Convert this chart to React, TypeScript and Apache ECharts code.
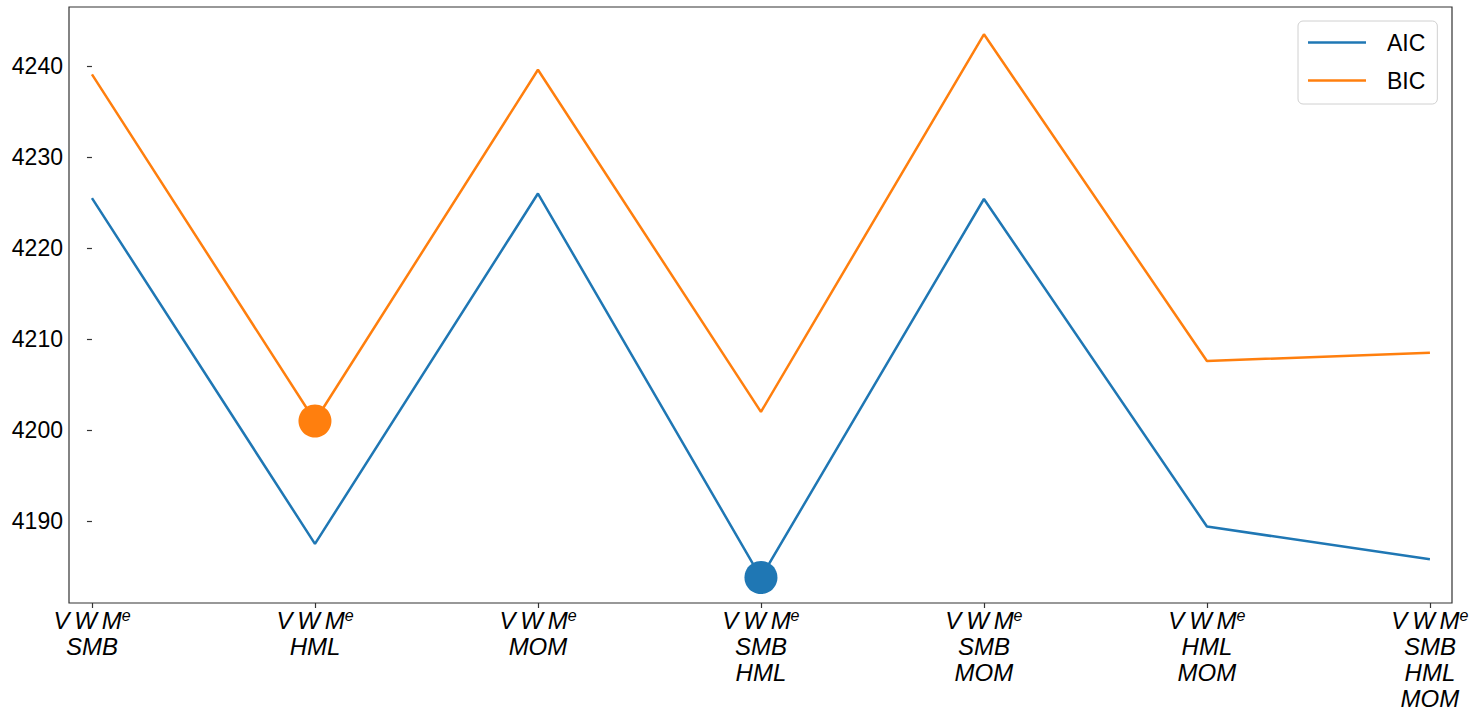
import React, { useEffect, useRef } from "react";
import * as echarts from "echarts";

const categories: string[][] = [
  ["SMB"],
  ["HML"],
  ["MOM"],
  ["SMB", "HML"],
  ["SMB", "MOM"],
  ["HML", "MOM"],
  ["SMB", "HML", "MOM"],
];
const aic: number[] = [4225.5, 4187.5, 4226.0, 4183.8, 4225.4, 4189.4, 4185.8];
const bic: number[] = [4239.1, 4201.0, 4239.6, 4202.0, 4243.5, 4207.6, 4208.5];
const yTicks: number[] = [4190, 4200, 4210, 4220, 4230, 4240];

const FONT = "'Liberation Sans', Arial, Helvetica, sans-serif";

function argmin(a: number[]): number {
  let k = 0;
  for (let i = 1; i < a.length; i++) if (a[i] < a[k]) k = i;
  return k;
}

export default function App() {
  const ref = useRef<HTMLDivElement>(null);
  useEffect(() => {
    if (!ref.current) return;
    const chart = echarts.init(ref.current, null, { renderer: "svg" });
    const ia = argmin(aic);
    const ib = argmin(bic);
    const xIdx = categories.map((_, i) => i);
    chart.setOption({
      animation: false,
      backgroundColor: "#fff",
      grid: {
        left: 69,
        right: 27,
        top: 7,
        bottom: 111,
        show: true,
        borderColor: "#333",
        borderWidth: 1.2,
        backgroundColor: "transparent",
      },
      legend: {
        left: 1298,
        top: 21,
        orient: "vertical",
        data: [
          { name: "AIC", icon: "rect", itemStyle: { color: "#1f77b4" } },
          { name: "BIC", icon: "rect", itemStyle: { color: "#ff7f0e" } },
        ],
        itemWidth: 58,
        itemHeight: 2.6,
        itemGap: 11,
        padding: [8, 12, 10, 10],
        backgroundColor: "#fff",
        borderColor: "#d0d0d0",
        borderWidth: 1,
        borderRadius: 5,
        textStyle: { fontFamily: FONT, fontSize: 23, color: "#000", padding: [0, 0, 0, 16], lineHeight: 27 },
      },
      xAxis: {
        type: "value",
        min: -0.103,
        max: 6.099,
        splitLine: { show: false },
        axisLine: { show: false },
        axisTick: { show: true, length: 5, customValues: xIdx, lineStyle: { color: "#333", width: 1.2 } },
        axisLabel: {
          customValues: xIdx,
          margin: 4,
          formatter: (v: number) => {
            const i = Math.round(v);
            const c = categories[i];
            if (!c) return "";
            return ["{m|V\u2009W\u2009M}{s|e}", ...c.map((t) => "{m|" + t + "}")].join("\n");
          },
          rich: {
            m: { fontFamily: FONT, fontStyle: "italic", fontSize: 24, color: "#000", lineHeight: 26 },
            s: { fontFamily: FONT, fontStyle: "italic", fontSize: 16, color: "#000", lineHeight: 26, verticalAlign: "top" },
          },
        },
      },
      yAxis: {
        type: "value",
        min: 4181,
        max: 4246.5,
        splitLine: { show: false },
        axisLine: { show: false },
        axisTick: { show: true, length: 5, customValues: yTicks, lineStyle: { color: "#333", width: 1.2 } },
        axisLabel: {
          customValues: yTicks,
          margin: 6,
          fontFamily: FONT,
          fontSize: 23,
          color: "#000",
          formatter: (v: number) => String(v),
        },
      },
      series: [
        {
          name: "AIC",
          type: "line",
          data: aic.map((v, i) => [i, v]),
          symbol: "none",
          lineStyle: { color: "#1f77b4", width: 2.5 },
          itemStyle: { color: "#1f77b4" },
          z: 2,
        },
        {
          name: "BIC",
          type: "line",
          data: bic.map((v, i) => [i, v]),
          symbol: "none",
          lineStyle: { color: "#ff7f0e", width: 2.5 },
          itemStyle: { color: "#ff7f0e" },
          z: 2,
        },
        {
          name: "AICmin",
          type: "scatter",
          data: [[ia, aic[ia]]],
          symbolSize: 33,
          itemStyle: { color: "#1f77b4", opacity: 1 },
          z: 3,
        },
        {
          name: "BICmin",
          type: "scatter",
          data: [[ib, bic[ib]]],
          symbolSize: 33,
          itemStyle: { color: "#ff7f0e", opacity: 1 },
          z: 3,
        },
      ],
    });
    return () => chart.dispose();
  }, []);
  return (
    <div
      ref={ref}
      style={{ position: "fixed", left: 0, top: 0, width: 1479, height: 714 }}
    />
  );
}
